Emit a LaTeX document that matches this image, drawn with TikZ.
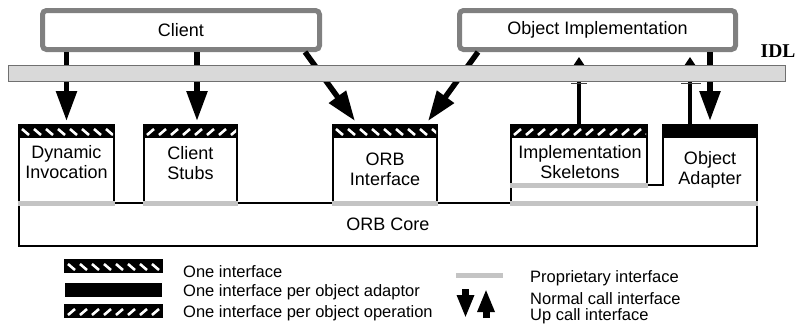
\documentclass[tikz,border=0pt]{standalone}
\usepackage{fontspec}
\setmainfont{Liberation Sans}
\newfontfamily\idlfont{Liberation Serif}
\usetikzlibrary{arrows.meta,calc}

\definecolor{boxgray}{HTML}{808080}
\definecolor{barfill}{HTML}{D9D9D9}
\definecolor{barline}{HTML}{707070}
\definecolor{propgray}{HTML}{C4C4C4}

% Black interface band along the top of a node, with white slanted dashes.
% #2 = dash start depth, #3 = vertical run of a dash, #4 = last dash index
\newcommand\hatchband[4]{%
  \fill ([xshift=-1.2pt,yshift=1.2pt]#1.north west) rectangle ([xshift=1.2pt,yshift=-13pt]#1.north east);
  \begin{scope}
    \clip ([xshift=1pt,yshift=-2.5pt]#1.north west) rectangle ([xshift=-1pt,yshift=-11pt]#1.north east);
    \foreach \k in {0,...,#4}
      \draw[white,line width=2.6pt] ($(#1.north west)+(\k*12+3,#2)$) -- ++(7,#3);
  \end{scope}}

\tikzset{
  topbox/.style={draw=boxgray,line width=5pt,rounded corners=4pt,fill=white,inner sep=0pt,outer sep=0pt,
    anchor=north west,minimum height=39pt,font=\fontsize{18}{20}\selectfont},
  unitbox/.style={draw=black,line width=2.4pt,fill=white,inner sep=0pt,outer sep=0pt,anchor=north west,
    font=\fontsize{18}{20}\selectfont},
  boxtext/.style={align=center,inner sep=0pt,font=\fontsize{18}{20}\selectfont},
  legtext/.style={anchor=west,inner sep=0pt,font=\fontsize{16.5}{17}\selectfont},
  callarrow/.style={line width=5.5pt,-{Triangle[length=30pt,width=20pt]}},
  upcall/.style={line width=3.6pt,-{Triangle[length=8pt,width=10pt]}},
  proprietary/.style={draw=propgray,line width=5pt},
  outline/.style={draw=black,line width=2.4pt},
  swatch/.style={inner sep=0pt,outer sep=0pt,anchor=north west,minimum width=97pt,minimum height=13pt},
  flange/.style={draw=black!75,line width=1pt},
  legarrow/.style={line width=7pt,-{Triangle[length=23pt,width=16pt]}},
}

\begin{document}
\begin{tikzpicture}[x=1pt,y=-1pt]
\useasboundingbox (0,0) rectangle (800,325);

% application level
\node[topbox,minimum width=277pt] (client) at (42.5,10.5) {Client};
\node[topbox,minimum width=276pt] (oi) at (459.5,10.5) {Object Implementation};

% ORB core and the components sitting on it
\node[unitbox,minimum width=738pt,minimum height=43pt] (core) at (19,203) {ORB Core};
\node[unitbox,minimum width=95pt,minimum height=78pt] (dyn) at (19,125) {};
\node[unitbox,minimum width=93pt,minimum height=78pt] (stubs) at (144,125) {};
\node[unitbox,minimum width=104pt,minimum height=78pt] (iface) at (333,125) {};
\node[unitbox,minimum width=136pt,minimum height=60pt] (skel) at (511,125) {};
\node[inner sep=0pt,outer sep=0pt,anchor=north west,minimum width=94pt,minimum height=78pt] (adapter) at (663,125) {};
\coordinate (ad-foot) at (skel.south west |- core.north);
\draw[outline] (skel.south east) -- (adapter.west |- skel.south) -- (adapter.north west)
  -- (adapter.north east) -- (adapter.south east);
\draw[outline] (skel.south west) -- (ad-foot);

% interface bands
\hatchband{dyn}{4}{6}{8}
\hatchband{stubs}{10}{-6}{8}
\hatchband{iface}{4}{6}{9}
\hatchband{skel}{10}{-6}{11}
\fill ([xshift=-1.2pt,yshift=1.2pt]adapter.north west) rectangle ([xshift=1.2pt,yshift=-13pt]adapter.north east);

% proprietary interfaces
\draw[proprietary] ([xshift=-1.2pt]dyn.south west) -- ([xshift=1.2pt]dyn.south east);
\draw[proprietary] ([xshift=-1.2pt]stubs.south west) -- ([xshift=1.2pt]stubs.south east);
\draw[proprietary] ([xshift=-1.2pt]iface.south west) -- ([xshift=1.2pt]iface.south east);
\draw[proprietary] ([xshift=-1.2pt]skel.south west) -- ([xshift=1.2pt]skel.south east);
\draw[proprietary] ([xshift=-1.2pt]ad-foot) -- ([xshift=1.2pt]core.north east);

% component names
\node[boxtext] (dyn-label) at (66.5,162.5) {Dynamic\\Invocation};
\node[boxtext] (stubs-label) at (190.5,163) {Client\\Stubs};
\node[boxtext] (iface-label) at (385,169) {ORB\\Interface};
\node[boxtext] (skel-label) at (580,162.5) {Implementation\\Skeletons};
\node[boxtext] (adapter-label) at (710,169.5) {Object\\Adapter};

% calls
\coordinate (cb) at ([yshift=-2.5pt]client.south);
\coordinate (ob) at ([yshift=-7.5pt]oi.south);
\coordinate (dyn-in) at ([yshift=4pt]dyn.north);
\coordinate (stubs-in) at ([xshift=6.5pt,yshift=4pt]stubs.north);
\coordinate (ad-in) at ([yshift=4pt]adapter.north);
\coordinate (ad-up) at ([xshift=-20pt]adapter.north);
\draw[callarrow] (dyn-in |- cb) -- (dyn-in);
\draw[callarrow] (stubs-in |- cb) -- (stubs-in);
\draw[callarrow] ([xshift=-14.5pt,yshift=-2.5pt]client.south east) -- ([xshift=22pt,yshift=4pt]iface.north west);
\draw[callarrow] ([xshift=18.5pt,yshift=-2.5pt]oi.south west) -- ([xshift=-9pt,yshift=4pt]iface.north east);
\draw[callarrow] (ad-in |- cb) -- (ad-in);
\draw[upcall] (skel.north) -- (skel.north |- ob);
\draw[upcall] (ad-up) -- (ad-up |- ob);

% IDL layer
\node[draw=barline,fill=barfill,line width=1.5pt,inner sep=0pt,outer sep=0pt,anchor=north west,
  minimum width=777pt,minimum height=16pt] (idl) at (8.5,65.5) {};
\node[inner sep=0pt,font=\idlfont\bfseries\fontsize{19.5}{19.5}\selectfont] (idl-label) at (778,51) {IDL};
\draw[flange] ($(skel.north |- idl.south)+(-8,2)$) -- ++(16,0);
\draw[flange] ($(ad-up |- idl.south)+(-9,2)$) -- ++(20,0);

% legend
\node[swatch] (sw-one) at (65,260) {};
\hatchband{sw-one}{4}{6}{8}
\node[swatch,fill=black,minimum height=14pt] (sw-adaptor) at (65,283) {};
\node[swatch] (sw-op) at (65,305) {};
\hatchband{sw-op}{10}{-6}{8}
\node[legtext] (lg-one) at (183,272) {One interface};
\node[legtext] (lg-adaptor) at (183,292) {One interface per object adaptor};
\node[legtext] (lg-op) at (183,313) {One interface per object operation};

\coordinate (pl-a) at (456,275);
\coordinate (pl-b) at (503,275);
\draw[proprietary] (pl-a) -- (pl-b);
\coordinate (dn-a) at (465.5,289);
\coordinate (dn-b) at (465.5,318);
\coordinate (up-a) at (486,318);
\coordinate (up-b) at (486,289);
\draw[legarrow] (dn-a) -- (dn-b);
\draw[legarrow] (up-a) -- (up-b);
\node[legtext] (lg-prop) at (530,278) {Proprietary interface};
\node[legtext] (lg-normal) at (530,299) {Normal call interface};
\node[legtext] (lg-up) at (530,316) {Up call interface};
\end{tikzpicture}
\end{document}
